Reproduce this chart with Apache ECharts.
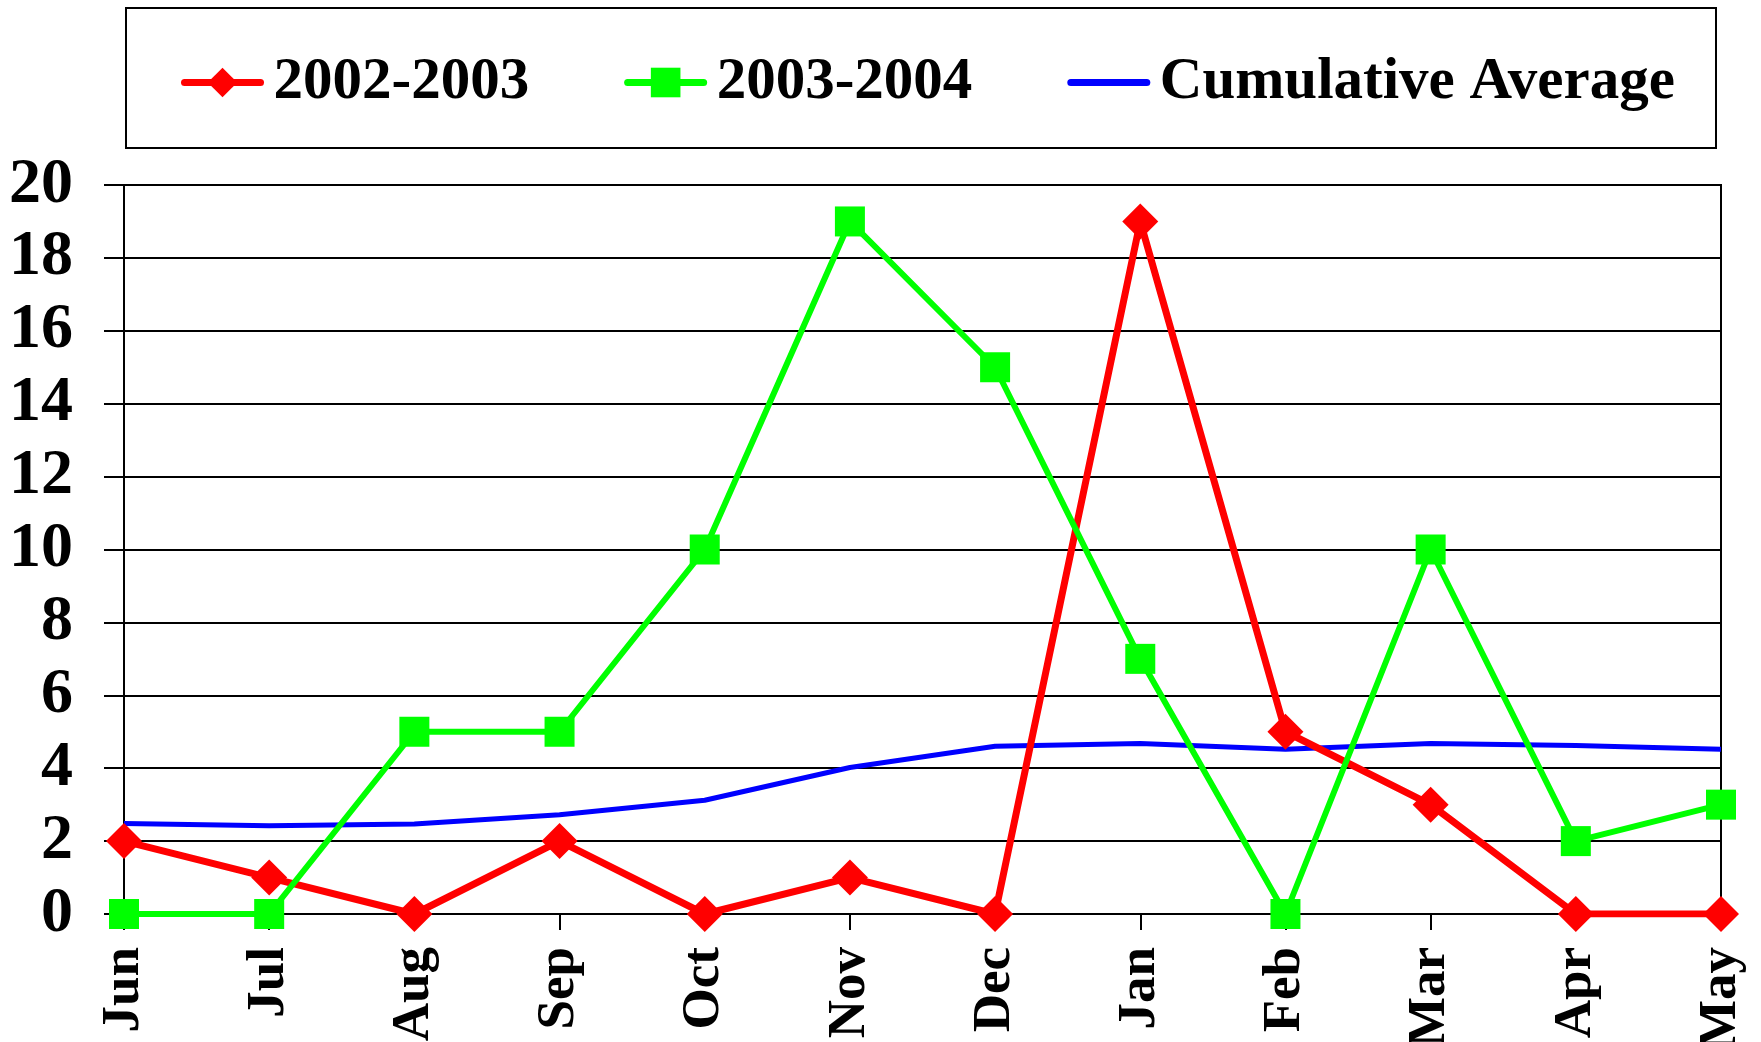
<!DOCTYPE html>
<html>
<head>
<meta charset="utf-8">
<script src="https://cdn.jsdelivr.net/npm/echarts@6/dist/echarts.min.js"></script>
<style>
  html, body { margin: 0; padding: 0; background: #fff; }
  #main { width: 1761px; height: 1042px; }
</style>
</head>
<body>
<div id="main"></div>
<script>
var months = ['Jun', 'Jul', 'Aug', 'Sep', 'Oct', 'Nov', 'Dec', 'Jan', 'Feb', 'Mar', 'Apr', 'May'];
var season0203 = [2, 1, 0, 2, 0, 1, 0, 19, 5, 3, 0, 0];
var season0304 = [0, 0, 5, 5, 10, 19, 15, 7, 0, 10, 2, 3];
var cumulativeAvg = [2.48, 2.42, 2.47, 2.72, 3.12, 4.02, 4.6, 4.68, 4.52, 4.68, 4.62, 4.52];

var font = '"Liberation Serif", "Times New Roman", serif';
var chart = echarts.init(document.getElementById('main'));

var option = {
    animation: false,
    backgroundColor: '#fff',
    graphic: [
        {
            type: 'rect',
            shape: { x: 126, y: 8, width: 1590, height: 140 },
            style: { fill: 'none', stroke: '#000', lineWidth: 2 }
        }
    ],
    legend: {
        left: 181,
        top: 53,
        padding: 0,
        itemWidth: 76,
        itemHeight: 37,
        itemGap: 95,
        lineStyle: { width: 7, cap: 'round' },
        textStyle: {
            fontFamily: font, fontWeight: 'bold', fontSize: 59, color: '#000',
            padding: [0, 0, 0, 8]
        },
        data: [
            '2002-2003',
            '2003-2004',
            { name: 'Cumulative Average', itemStyle: { opacity: 0 } }
        ]
    },
    grid: {
        left: 124,
        right: 40,
        top: 185,
        bottom: 128,
        outerBoundsMode: 'none',
        show: true,
        borderColor: '#000',
        borderWidth: 2
    },
    xAxis: {
        type: 'category',
        data: months,
        boundaryGap: false,
        axisLine: { lineStyle: { color: '#000', width: 2 } },
        axisTick: { show: true, length: 16, alignWithLabel: true, lineStyle: { color: '#000', width: 2 } },
        axisLabel: {
            rotate: 90,
            margin: 33,
            fontFamily: font,
            fontWeight: 'bold',
            fontSize: 53,
            color: '#000'
        },
        splitLine: { show: false }
    },
    yAxis: {
        type: 'value',
        min: 0,
        max: 20,
        interval: 2,
        axisLine: { show: true, lineStyle: { color: '#000', width: 2 } },
        axisTick: { show: true, length: 20, lineStyle: { color: '#000', width: 2 } },
        axisLabel: {
            margin: 51,
            fontFamily: font,
            fontWeight: 'bold',
            fontSize: 64,
            color: '#000'
        },
        splitLine: { show: true, lineStyle: { color: '#000', width: 2 } }
    },
    series: [
        {
            name: '2002-2003',
            type: 'line',
            data: season0203,
            color: '#ff0000',
            symbol: 'diamond',
            symbolSize: 36,
            lineStyle: { width: 7, color: '#ff0000' },
            itemStyle: { color: '#ff0000' },
            z: 3
        },
        {
            name: '2003-2004',
            type: 'line',
            data: season0304,
            color: '#00ff00',
            symbol: 'rect',
            symbolSize: 30,
            lineStyle: { width: 6, color: '#00ff00' },
            itemStyle: { color: '#00ff00' },
            z: 4
        },
        {
            name: 'Cumulative Average',
            type: 'line',
            data: cumulativeAvg,
            color: '#0000ff',
            symbol: 'none',
            lineStyle: { width: 5, color: '#0000ff' },
            z: 2
        }
    ]
};

chart.setOption(option);
</script>
</body>
</html>
